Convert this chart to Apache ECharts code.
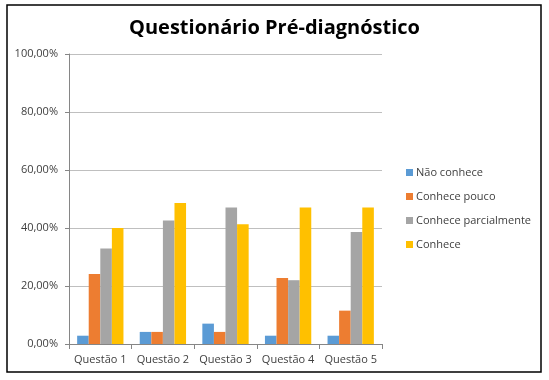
<!DOCTYPE html>
<html>
<head>
<meta charset="utf-8">
<script src="https://cdn.jsdelivr.net/npm/echarts@6/dist/echarts.min.js"></script>
<style>
  html, body { margin: 0; padding: 0; background: #fff; }
  #chart { width: 549px; height: 380px; }
</style>
</head>
<body>
<div id="chart"></div>
<script>
var categories = ['Questão 1', 'Questão 2', 'Questão 3', 'Questão 4', 'Questão 5'];
var seriesNames = ['Não conhece', 'Conhece pouco', 'Conhece parcialmente', 'Conhece'];
var naoConhece = [2.86, 4.17, 7.02, 2.86, 2.86];
var conhecePouco = [24.1, 4.17, 4.17, 22.8, 11.5];
var conheceParcial = [32.9, 42.6, 47.1, 22.0, 38.6];
var conhece = [40.0, 48.6, 41.3, 47.1, 47.1];
var colors = ['#5B9BD5', '#ED7D31', '#A5A5A5', '#FFC000'];

var chart = echarts.init(document.getElementById('chart'));
var font = 'Open Sans, sans-serif';

function bar(name, values) {
  return {
    name: name,
    type: 'bar',
    data: values,
    barGap: '0%',
    barCategoryGap: '26%'
  };
}

var option = {
  animation: false,
  color: colors,
  title: {
    text: 'Questionário Pré-diagnóstico',
    left: 'center',
    top: 13,
    textStyle: { fontFamily: font, fontSize: 20, fontWeight: 'bold', color: '#000' }
  },
  legend: {
    orient: 'vertical',
    left: 401,
    top: 162,
    itemWidth: 7,
    itemHeight: 7,
    itemGap: 13,
    icon: 'rect',
    textStyle: { fontFamily: font, fontSize: 11, color: '#404040', padding: [0, 0, 0, -2] },
    data: seriesNames
  },
  grid: { left: 69, right: 167, top: 54, bottom: 36 },
  xAxis: {
    type: 'category',
    data: categories,
    axisLine: { lineStyle: { color: '#868686' } },
    axisTick: { show: true, length: 5, lineStyle: { color: '#868686' } },
    axisLabel: { interval: 0, fontFamily: font, fontSize: 11, color: '#404040', margin: 10 }
  },
  yAxis: {
    type: 'value',
    min: 0,
    max: 100,
    interval: 20,
    axisLine: { show: true, lineStyle: { color: '#868686' } },
    axisTick: { show: true, length: 4, lineStyle: { color: '#868686' } },
    splitLine: { lineStyle: { color: '#BFBFBF' } },
    axisLabel: {
      fontFamily: font, fontSize: 11, color: '#404040', margin: 11,
      formatter: function (v) { return v.toFixed(2).replace('.', ',') + '%'; }
    }
  },
  graphic: [{
    type: 'rect',
    shape: { x: 7, y: 5, width: 534, height: 367 },
    style: { fill: 'none', stroke: '#000', lineWidth: 1.5 },
    silent: true
  }],
  series: [
    bar(seriesNames[0], naoConhece),
    bar(seriesNames[1], conhecePouco),
    bar(seriesNames[2], conheceParcial),
    bar(seriesNames[3], conhece)
  ]
};
chart.setOption(option);
</script>
</body>
</html>
